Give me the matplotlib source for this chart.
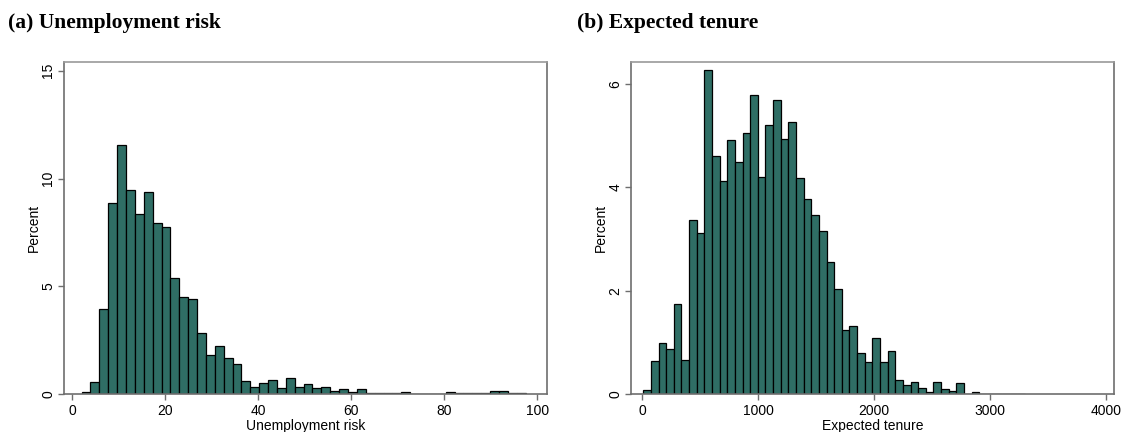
import matplotlib.pyplot as plt
import numpy as np

# Histogram (a): unemployment risk, 50 bins
risk_start = 2.0
risk_width = 1.91
risk_pct = [0.12, 0.57, 3.97, 8.89, 11.54, 9.49, 8.35, 9.37, 7.95, 7.74,
            5.37, 4.49, 4.42, 2.82, 1.80, 2.26, 1.68, 1.42, 0.62, 0.35,
            0.52, 0.68, 0.31, 0.77, 0.35, 0.48, 0.28, 0.32, 0.17, 0.23,
            0.09, 0.26, 0.05, 0.05, 0.07, 0.04, 0.12, 0.03, 0.03, 0.03,
            0.02, 0.10, 0.05, 0.04, 0.07, 0.07, 0.16, 0.16, 0.07, 0.04]
risk_ticks = [0, 20, 40, 60, 80, 100]
risk_yticks = [0, 5, 10, 15]

# Histogram (b): expected tenure, 50 bins
ten_start = 9.0
ten_width = 65.9
ten_pct = [0.08, 0.65, 1.00, 0.88, 1.75, 0.66, 3.36, 3.11, 6.26, 4.61,
           4.12, 4.91, 4.50, 5.05, 5.78, 4.20, 5.21, 5.68, 4.94, 5.26,
           4.18, 3.77, 3.46, 3.15, 2.56, 2.03, 1.24, 1.32, 0.79, 0.63,
           1.08, 0.62, 0.84, 0.28, 0.18, 0.23, 0.12, 0.05, 0.23, 0.10,
           0.06, 0.21, 0.01, 0.04, 0.01, 0.0, 0.01, 0.005, 0.0, 0.01]
ten_ticks = [0, 1000, 2000, 3000, 4000]
ten_yticks = [0, 2, 4, 6]

bar_col = '#2f6e65'
frame_col = '#6e6e6e'

fig = plt.figure(figsize=(11.22, 4.32), dpi=100)
W, H = 1122, 432

def panel(rect, start, width, pct, xt, yt, xlim, ylim, xlabel, title, tx):
    l, t, r, b = rect
    ax = fig.add_axes([l / W, 1 - b / H, (r - l) / W, (b - t) / H])
    edges = start + width * np.arange(len(pct))
    ax.bar(edges, pct, width=width, align='edge', color=bar_col,
           edgecolor='black', linewidth=0.9)
    ax.set_xlim(*xlim)
    ax.set_ylim(*ylim)
    ax.set_xticks(xt)
    ax.set_yticks(yt)
    for s in ax.spines.values():
        s.set_color(frame_col)
        s.set_linewidth(1.2)
    ax.spines['top'].set_color('#9a9a9a')
    ax.tick_params(direction='out', length=4, width=1, color=frame_col,
                   labelsize=10, pad=3)
    ax.tick_params(axis='y', labelrotation=90, pad=2)
    for lb in ax.get_yticklabels():
        lb.set_va('center')
    ax.set_xlabel(xlabel, fontsize=10, labelpad=1)
    ax.set_ylabel('Percent', fontsize=10, labelpad=0)
    fig.text(tx / W, 1 - 23 / H, title, fontsize=15.5, fontweight='bold',
             family='Liberation Serif', va='center', ha='left')
    return ax

plt.rcParams['font.family'] = ['Liberation Sans', 'DejaVu Sans']

panel((63.7, 61.7, 547, 394.3), risk_start, risk_width, risk_pct,
      risk_ticks, risk_yticks, (-1.85, 102.1), (0, 15.42),
      'Unemployment risk', '(a) Unemployment risk', 8)
panel((630.7, 61.7, 1114, 394.3), ten_start, ten_width, ten_pct,
      ten_ticks, ten_yticks, (-100, 4072), (0, 6.43),
      'Expected tenure', '(b) Expected tenure', 577)

fig.savefig('out.png', dpi=100)
